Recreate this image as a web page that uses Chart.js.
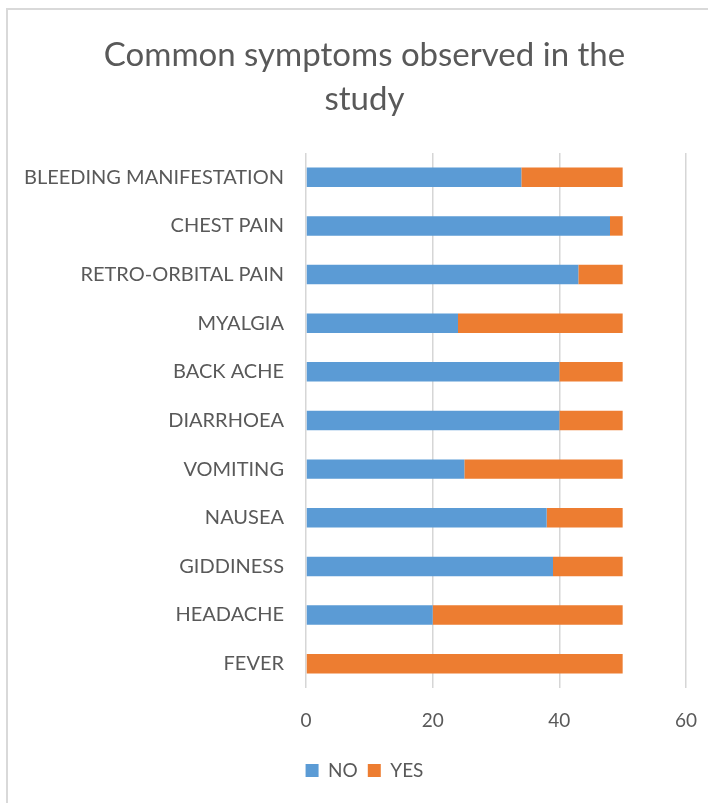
<!DOCTYPE html>
<html>
<head>
<meta charset="utf-8">
<script src="https://cdn.jsdelivr.net/npm/chart.js@4"></script>
<style>
  html, body { margin: 0; padding: 0; background: #fff; }
  #frame { position: absolute; left: 6px; top: 8px; width: 702px; height: 795px;
           border-left: 2px solid #d9d9d9; border-top: 2px solid #d9d9d9; box-sizing: border-box; }
  #wrap { position: absolute; left: 0; top: 0; width: 708px; height: 803px; }
</style>
</head>
<body>
<div id="frame"></div>
<div id="wrap"><canvas id="c" width="708" height="803"></canvas></div>
<script>
const categories = ["BLEEDING MANIFESTATION", "CHEST PAIN", "RETRO-ORBITAL PAIN", "MYALGIA",
  "BACK ACHE", "DIARRHOEA", "VOMITING", "NAUSEA", "GIDDINESS", "HEADACHE", "FEVER"];
const noValues  = [34, 48, 43, 24, 40, 40, 25, 38, 39, 20, 0];
const yesValues = [16, 2, 7, 26, 10, 10, 25, 12, 11, 30, 50];
const xTicks = [0, 20, 40, 60];
const titleLines = ["Common symptoms observed in the", "study"];

const FONT = "Lato, 'Open Sans', sans-serif";
const TXT = "#595959";
const PAD_LEFT = 21;

new Chart(document.getElementById('c'), {
  type: 'bar',
  data: {
    labels: categories,
    datasets: [
      { label: 'NO', data: noValues, backgroundColor: '#5B9BD5', borderWidth: 0 },
      { label: 'YES', data: yesValues, backgroundColor: '#ED7D31', borderWidth: 0 }
    ]
  },
  options: {
    indexAxis: 'y',
    responsive: false,
    animation: false,
    layout: { padding: { left: PAD_LEFT, right: 0, top: 0, bottom: 13 } },
    datasets: { bar: { categoryPercentage: 1.0, barPercentage: 0.4 } },
    plugins: {
      title: {
        display: true,
        text: titleLines,
        color: TXT,
        font: { family: FONT, size: 33, weight: '400', lineHeight: 1.333 },
        padding: { top: 33, bottom: 32 }
      },
      legend: {
        display: true,
        position: 'bottom',
        labels: {
          color: TXT,
          font: { family: FONT, size: 19 },
          boxWidth: 13, boxHeight: 13, padding: 10
        }
      },
      tooltip: { enabled: false }
    },
    scales: {
      x: {
        stacked: true,
        min: 0, max: 60,
        afterBuildTicks: (s) => { s.ticks = xTicks.map(v => ({ value: v })); },
        afterFit: (s) => { s.paddingLeft = 0; s.paddingRight = 22; s.height = 63; },
        grid: { color: '#d6d6d6', lineWidth: 1.5, drawTicks: false },
        border: { display: false },
        ticks: { color: TXT, font: { family: FONT, size: 19 }, padding: 21 }
      },
      y: {
        stacked: true,
        afterFit: (s) => { s.width = 306 - PAD_LEFT; s.paddingTop = 0; s.paddingBottom = 0; },
        grid: { display: false, drawTicks: false },
        border: { display: false },
        ticks: { color: TXT, font: { family: FONT, size: 20 }, padding: 22, autoSkip: false }
      }
    }
  }
});
</script>
</body>
</html>
